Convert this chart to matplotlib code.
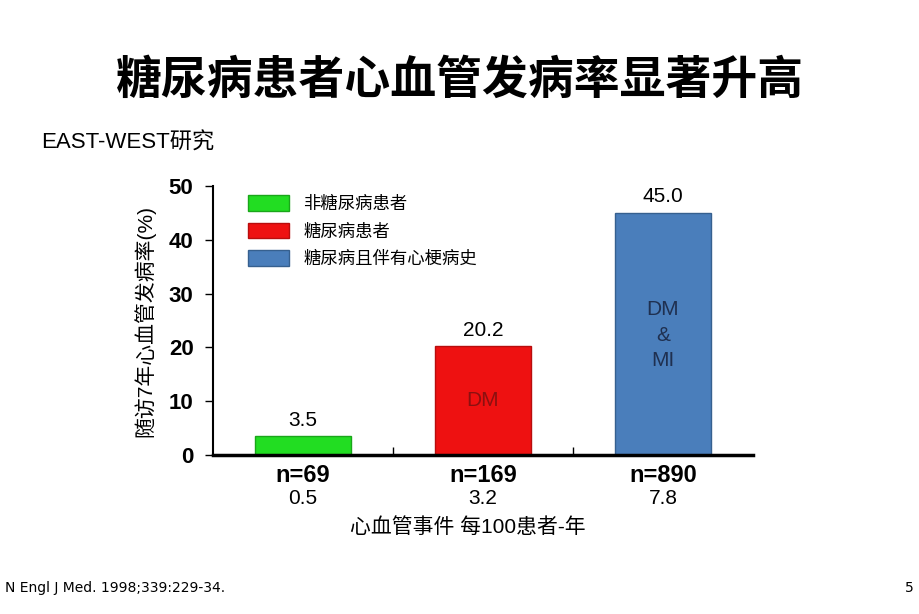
import matplotlib
matplotlib.use("Agg")
import matplotlib.pyplot as plt
from matplotlib.patches import Patch

plt.rcParams['font.family'] = ['Liberation Sans', 'Noto Sans CJK SC', 'DejaVu Sans']
cjk = ['Noto Sans CJK SC', 'DejaVu Sans']

groups = ["非糖尿病患者", "糖尿病患者", "糖尿病且伴有心梗病史"]
rates = [3.5, 20.2, 45.0]
n_labels = ["n=69", "n=169", "n=890"]
events = ["0.5", "3.2", "7.8"]
inner = ["", "DM", "DM\n&\nMI"]
colors = ["#22dd22", "#ee1111", "#4a7ebb"]
edges = ["#1aa61a", "#b80d0d", "#36608f"]
inner_colors = ["#000000", "#8b1010", "#1f3050"]

fig = plt.figure(figsize=(9.2, 6.14), dpi=100)
ax = fig.add_axes([0.2315, 0.259, 0.587, 0.438])

x = range(len(rates))
bars = ax.bar(x, rates, width=0.53, color=colors, edgecolor=edges, linewidth=1)
for i, b in enumerate(bars):
    ax.text(b.get_x() + b.get_width() / 2, rates[i] + 1.2, f"{rates[i]:.1f}",
            ha='center', va='bottom', fontsize=15)
    if inner[i]:
        ax.text(b.get_x() + b.get_width() / 2, 10.2 if i == 1 else 22.3,
                inner[i], ha='center', va='center', fontsize=15,
                color=inner_colors[i], linespacing=1.45)

ax.set_xlim(-0.5, 2.5)
ax.set_ylim(0, 50)
ax.set_yticks([0, 10, 20, 30, 40, 50])
ax.set_yticklabels(["0", "10", "20", "30", "40", "50"], fontsize=16,
                   fontweight='bold')
ax.set_xticks([0.5, 1.5])
ax.set_xticklabels([])
ax.tick_params(axis='x', direction='in', length=6, width=1)
ax.tick_params(axis='y', direction='out', length=6, width=1, pad=8)
for s in ['top', 'right']:
    ax.spines[s].set_visible(False)
ax.spines['left'].set_linewidth(1.5)
ax.spines['bottom'].set_linewidth(2.5)

for i in x:
    ax.text(i, -1.6, n_labels[i], ha='center', va='top', fontsize=17,
            fontweight='bold')
    ax.text(i, -6.4, events[i], ha='center', va='top', fontsize=15)

ax.set_ylabel("随访7年心血管发病率(%)", fontsize=15, labelpad=10)

handles = [Patch(facecolor=colors[i], edgecolor=edges[i]) for i in x]
ax.legend(handles, groups, loc='upper left', bbox_to_anchor=(0.035, 1.025),
          frameon=False, prop={'family': cjk, 'size': 12.5},
          handlelength=2.4, handleheight=1.0,
          labelspacing=0.55, handletextpad=0.8)

fig.text(0.5, 0.868, "糖尿病患者心血管发病率显著升高", ha='center', va='center',
         fontsize=33, fontweight='bold', family=cjk)
fig.text(0.045, 0.767, "EAST-WEST研究", ha='left', va='center', fontsize=16)
fig.text(0.508, 0.142, "心血管事件 每100患者-年", ha='center', va='center', fontsize=15)
fig.text(0.005, 0.042, "N Engl J Med. 1998;339:229-34.", ha='left', va='center',
         fontsize=10, family='Liberation Sans Narrow')
fig.text(0.988, 0.042, "5", ha='center', va='center', fontsize=10,
         family='Liberation Sans Narrow')

fig.savefig("out.png", dpi=100)
